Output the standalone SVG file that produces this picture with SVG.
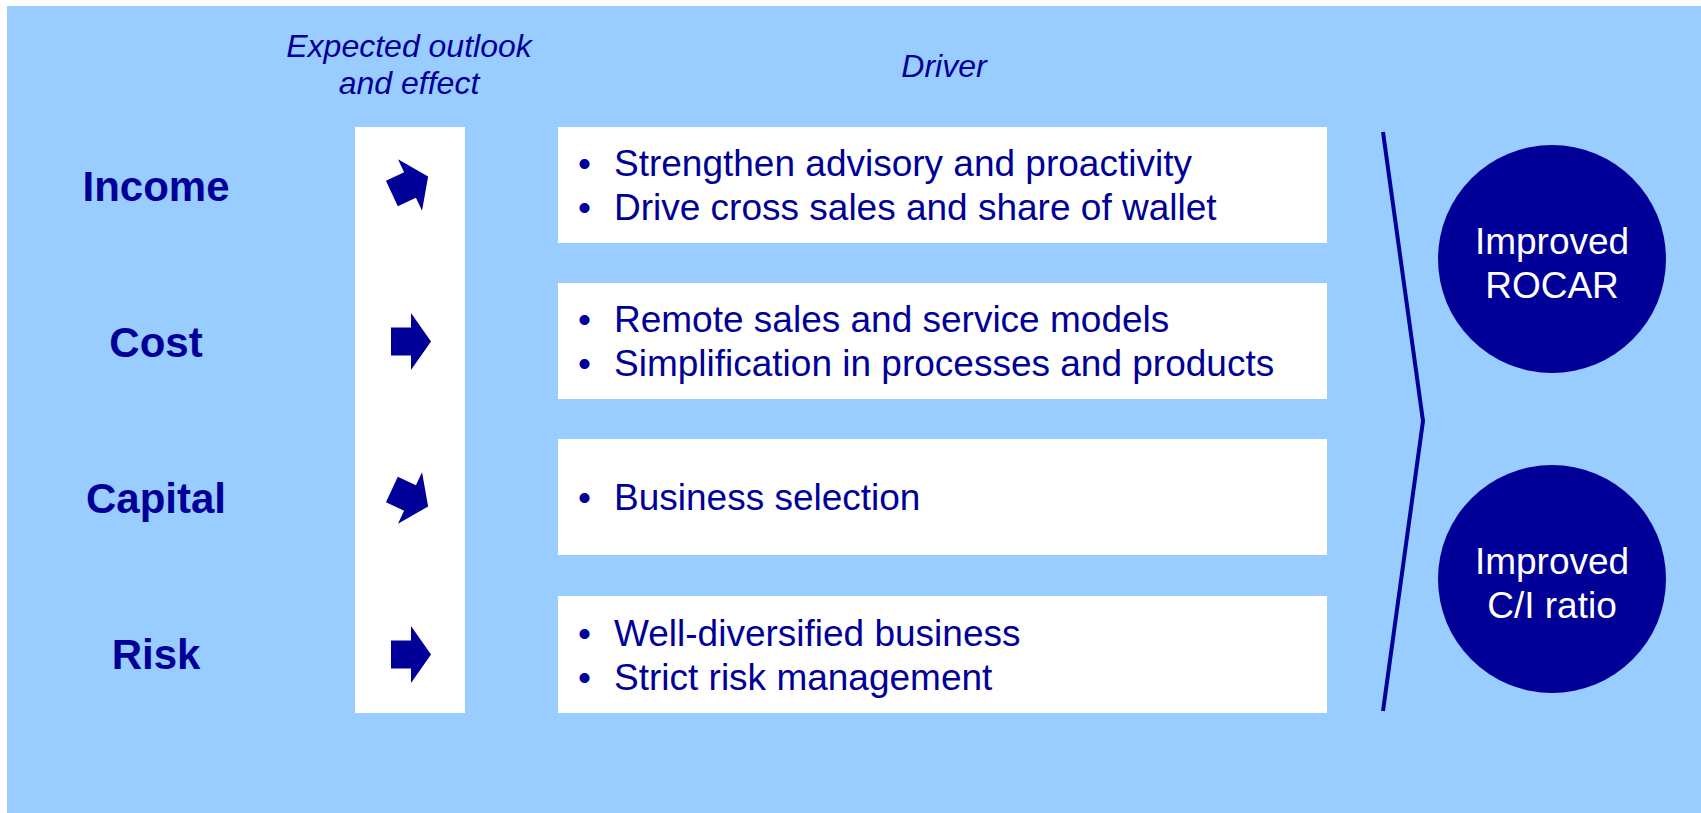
<svg xmlns="http://www.w3.org/2000/svg" width="1701" height="813" viewBox="0 0 1701 813">
  <style>
    .hdr { font-family: "Liberation Sans", Arial, sans-serif; font-style: italic; font-size: 32px; fill: #000099; text-anchor: middle; }
    .row { font-family: "Liberation Sans", Arial, sans-serif; font-weight: bold; font-size: 42px; fill: #000099; text-anchor: middle; }
    .item { font-family: "Liberation Sans", Arial, sans-serif; font-size: 37px; fill: #000099; }
    .goal { font-family: "Liberation Sans", Arial, sans-serif; font-size: 37px; fill: #ffffff; text-anchor: middle; }
    .panel { fill: #ffffff; }
    .arrow { fill: #000099; }
    .disc { fill: #000099; }
  </style>
  <defs>
    <!-- block arrow, centred on its own origin, pointing right -->
    <path id="blockArrow" d="M -20,-14 L 0,-14 L 0,-28.5 L 20,0 L 0,28.5 L 0,14 L -20,14 Z"/>
  </defs>

  <!-- backdrop -->
  <rect x="7" y="6" width="1694" height="807" fill="#99ccff"/>

  <!-- column headings -->
  <g id="heading-outlook">
    <text class="hdr" x="409" y="57">Expected outlook</text>
    <text class="hdr" x="409" y="94">and effect</text>
  </g>
  <g id="heading-driver">
    <text class="hdr" x="944" y="77">Driver</text>
  </g>

  <!-- row labels -->
  <g id="label-income"><text class="row" x="156" y="201">Income</text></g>
  <g id="label-cost"><text class="row" x="156" y="357">Cost</text></g>
  <g id="label-capital"><text class="row" x="156" y="513">Capital</text></g>
  <g id="label-risk"><text class="row" x="156" y="669">Risk</text></g>

  <!-- outlook column with trend arrows -->
  <g id="outlook">
    <rect class="panel" x="355" y="127" width="110" height="586"/>
    <use href="#blockArrow" class="arrow" transform="translate(410,185) rotate(-25)"/>
    <use href="#blockArrow" class="arrow" transform="translate(411,341.5)"/>
    <use href="#blockArrow" class="arrow" transform="translate(410,498) rotate(25)"/>
    <use href="#blockArrow" class="arrow" transform="translate(411,654.5)"/>
  </g>

  <!-- driver panels -->
  <g id="driver-income">
    <rect class="panel" x="558" y="127" width="769" height="116"/>
    <text class="item" y="176"><tspan x="578">•</tspan><tspan x="614">Strengthen advisory and proactivity</tspan></text>
    <text class="item" y="220"><tspan x="578">•</tspan><tspan x="614">Drive cross sales and share of wallet</tspan></text>
  </g>
  <g id="driver-cost">
    <rect class="panel" x="558" y="283" width="769" height="116"/>
    <text class="item" y="332"><tspan x="578">•</tspan><tspan x="614">Remote sales and service models</tspan></text>
    <text class="item" y="376"><tspan x="578">•</tspan><tspan x="614">Simplification in processes and products</tspan></text>
  </g>
  <g id="driver-capital">
    <rect class="panel" x="558" y="439" width="769" height="116"/>
    <text class="item" y="510"><tspan x="578">•</tspan><tspan x="614">Business selection</tspan></text>
  </g>
  <g id="driver-risk">
    <rect class="panel" x="558" y="596" width="769" height="117"/>
    <text class="item" y="646"><tspan x="578">•</tspan><tspan x="614">Well-diversified business</tspan></text>
    <text class="item" y="690"><tspan x="578">•</tspan><tspan x="614">Strict risk management</tspan></text>
  </g>

  <!-- bracket gathering all drivers -->
  <g id="connectors">
    <polyline points="1383,132 1423,421 1383,711" fill="none" stroke="#000099" stroke-width="4"/>
  </g>

  <!-- outcomes -->
  <g id="goal-rocar">
    <circle class="disc" cx="1552" cy="259" r="114"/>
    <text class="goal" x="1552" y="254">Improved</text>
    <text class="goal" x="1552" y="298">ROCAR</text>
  </g>
  <g id="goal-ci">
    <circle class="disc" cx="1552" cy="579" r="114"/>
    <text class="goal" x="1552" y="574">Improved</text>
    <text class="goal" x="1552" y="618">C/I ratio</text>
  </g>
</svg>
